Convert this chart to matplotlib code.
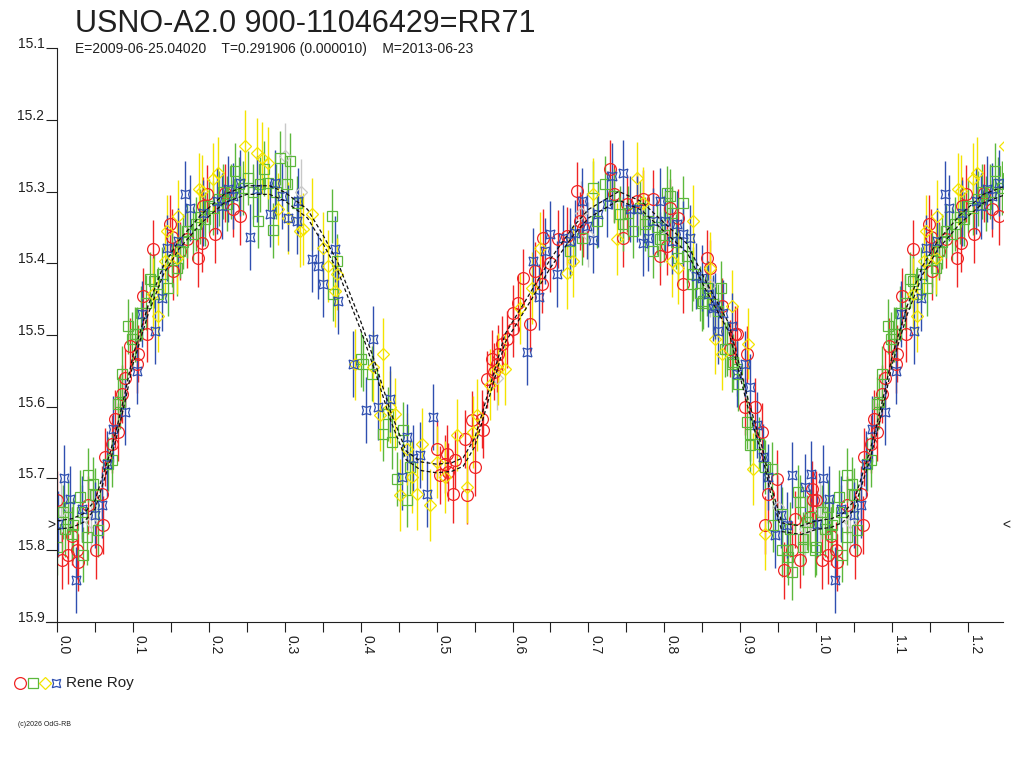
import numpy as np
import matplotlib
matplotlib.use("Agg")
import matplotlib.pyplot as plt
from matplotlib.lines import Line2D
from matplotlib.ticker import MultipleLocator
import matplotlib.transforms as mtransforms

plt.rcParams['font.family'] = ['Liberation Sans', 'DejaVu Sans']

TITLE = "USNO-A2.0 900-11046429=RR71"
SUBTITLE = "E=2009-06-25.04020    T=0.291906 (0.000010)    M=2013-06-23"
OBSERVER = "Rene Roy"
FOOTER = "(c)2026 OdG-RB"

# phase / magnitude readings, phase 0..1 (the chart repeats 0..0.25 after 1.0)
red_ph = [0.000, 0.007, 0.015, 0.020, 0.026, 0.028, 0.041, 0.051, 0.059, 0.061, 0.063, 0.072,
          0.076, 0.080, 0.086, 0.090, 0.096, 0.105, 0.107, 0.113, 0.118, 0.127, 0.149, 0.151,
          0.153, 0.162, 0.171, 0.186, 0.191, 0.192, 0.197, 0.208, 0.221, 0.232, 0.241,
          0.500, 0.505, 0.511, 0.514, 0.515, 0.522, 0.524, 0.538, 0.540, 0.547, 0.551, 0.560,
          0.561, 0.567, 0.573, 0.575, 0.580, 0.581, 0.586, 0.593, 0.600, 0.601, 0.607, 0.614,
          0.623, 0.630, 0.639, 0.640, 0.650, 0.660, 0.672, 0.685, 0.689, 0.693, 0.729, 0.733,
          0.746, 0.751, 0.764, 0.772, 0.785, 0.794, 0.804, 0.808, 0.818, 0.825, 0.856, 0.860,
          0.876, 0.887, 0.893, 0.896, 0.906, 0.909, 0.920, 0.929, 0.933, 0.937, 0.948, 0.957,
          0.968, 0.972, 0.979, 0.992, 0.995, 0.996]
red_mag = [15.730, 15.814, 15.807, 15.780, 15.800, 15.817, 15.737, 15.800, 15.722, 15.765, 15.670, 15.652,
           15.617, 15.635, 15.582, 15.560, 15.516, 15.541, 15.526, 15.446, 15.498, 15.380, 15.345, 15.364,
           15.411, 15.383, 15.366, 15.393, 15.372, 15.320, 15.303, 15.359, 15.302, 15.324, 15.334,
           15.659, 15.695, 15.680, 15.666, 15.691, 15.722, 15.674, 15.645, 15.723, 15.618, 15.684, 15.617,
           15.632, 15.562, 15.533, 15.551, 15.540, 15.526, 15.513, 15.506, 15.470, 15.491, 15.456, 15.420,
           15.484, 15.411, 15.429, 15.365, 15.400, 15.366, 15.362, 15.299, 15.341, 15.351, 15.268, 15.303,
           15.365, 15.317, 15.313, 15.310, 15.310, 15.390, 15.376, 15.323, 15.337, 15.429, 15.393, 15.407,
           15.460, 15.519, 15.499, 15.499, 15.600, 15.527, 15.600, 15.635, 15.765, 15.722, 15.700, 15.828,
           15.799, 15.757, 15.813, 15.754, 15.715, 15.730]

green_ph = [0.000, 0.008, 0.011, 0.015, 0.020, 0.021, 0.030, 0.033, 0.034, 0.040, 0.041, 0.047,
            0.050, 0.054, 0.067, 0.072, 0.080, 0.083, 0.086, 0.094, 0.099, 0.103, 0.105, 0.110,
            0.117, 0.123, 0.128, 0.133, 0.138, 0.146, 0.152, 0.158, 0.162, 0.166, 0.171, 0.179,
            0.183, 0.189, 0.195, 0.200, 0.206, 0.213, 0.218, 0.224, 0.229, 0.235, 0.240, 0.245,
            0.252, 0.258, 0.265, 0.268, 0.272, 0.278, 0.285, 0.289, 0.294, 0.303, 0.307, 0.316,
            0.362, 0.364, 0.369, 0.400, 0.403, 0.415, 0.430, 0.436, 0.441, 0.448, 0.456, 0.461,
            0.465, 0.676, 0.692, 0.706, 0.711, 0.722, 0.733, 0.742, 0.746, 0.752, 0.759, 0.768,
            0.775, 0.779, 0.785, 0.790, 0.794, 0.800, 0.804, 0.808, 0.810, 0.815, 0.818, 0.825,
            0.830, 0.837, 0.838, 0.847, 0.850, 0.851, 0.856, 0.864, 0.870, 0.874, 0.880, 0.883,
            0.889, 0.891, 0.896, 0.897, 0.909, 0.913, 0.913, 0.924, 0.933, 0.942, 0.943, 0.955,
            0.955, 0.962, 0.963, 0.966, 0.968, 0.976, 0.979, 0.983, 0.983, 0.988, 0.992, 0.999]
green_mag = [15.796, 15.747, 15.771, 15.740, 15.778, 15.765, 15.726, 15.747, 15.806, 15.782, 15.695, 15.708,
             15.723, 15.772, 15.680, 15.674, 15.596, 15.593, 15.554, 15.488, 15.506, 15.499, 15.499, 15.470,
             15.455, 15.422, 15.425, 15.443, 15.415, 15.435, 15.395, 15.407, 15.383, 15.370, 15.355, 15.359,
             15.345, 15.335, 15.338, 15.320, 15.323, 15.310, 15.300, 15.317, 15.300, 15.271, 15.290, 15.295,
             15.281, 15.300, 15.341, 15.290, 15.268, 15.288, 15.354, 15.300, 15.253, 15.289, 15.257, 15.316,
             15.334, 15.443, 15.397, 15.534, 15.540, 15.554, 15.638, 15.610, 15.649, 15.701, 15.632, 15.730,
             15.684, 15.383, 15.365, 15.295, 15.341, 15.289, 15.306, 15.331, 15.345, 15.330, 15.355, 15.323,
             15.345, 15.341, 15.383, 15.350, 15.366, 15.360, 15.302, 15.306, 15.330, 15.370, 15.393, 15.316,
             15.390, 15.429, 15.415, 15.442, 15.456, 15.453, 15.435, 15.457, 15.467, 15.435, 15.520, 15.519,
             15.541, 15.537, 15.547, 15.568, 15.621, 15.638, 15.653, 15.652, 15.684, 15.687, 15.765, 15.750,
             15.799, 15.799, 15.810, 15.771, 15.831, 15.719, 15.733, 15.785, 15.796, 15.761, 15.754, 15.799]

yellow_ph = [0.127, 0.133, 0.142, 0.145, 0.158, 0.159, 0.187, 0.191, 0.206, 0.212, 0.248, 0.264,
             0.270, 0.278, 0.291, 0.304, 0.320, 0.324, 0.336, 0.350, 0.357, 0.366, 0.369, 0.393,
             0.416, 0.426, 0.430, 0.439, 0.445, 0.452, 0.461, 0.468, 0.474, 0.481, 0.491, 0.501,
             0.511, 0.527, 0.540, 0.548, 0.553, 0.570, 0.581, 0.590, 0.610, 0.626, 0.636, 0.672,
             0.680, 0.706, 0.738, 0.764, 0.772, 0.810, 0.818, 0.838, 0.860, 0.867, 0.876, 0.889,
             0.910, 0.917, 0.933]
yellow_mag = [15.443, 15.474, 15.397, 15.355, 15.393, 15.334, 15.296, 15.299, 15.282, 15.274, 15.236, 15.247,
              15.253, 15.260, 15.324, 15.337, 15.355, 15.352, 15.331, 15.379, 15.404, 15.439, 15.415, 15.541,
              15.544, 15.611, 15.527, 15.600, 15.610, 15.723, 15.659, 15.698, 15.722, 15.652, 15.737, 15.677,
              15.698, 15.639, 15.712, 15.635, 15.611, 15.569, 15.547, 15.547, 15.463, 15.435, 15.379, 15.414,
              15.397, 15.303, 15.366, 15.281, 15.316, 15.397, 15.407, 15.341, 15.407, 15.505, 15.526, 15.460,
              15.512, 15.687, 15.778]

blue_ph = [0.001, 0.009, 0.017, 0.025, 0.033, 0.050, 0.059, 0.066, 0.074, 0.090, 0.105, 0.112,
           0.129, 0.138, 0.145, 0.159, 0.169, 0.175, 0.192, 0.211, 0.217, 0.225, 0.232, 0.241,
           0.254, 0.264, 0.281, 0.287, 0.296, 0.304, 0.316, 0.318, 0.336, 0.344, 0.350, 0.366,
           0.370, 0.390, 0.407, 0.416, 0.423, 0.439, 0.455, 0.461, 0.469, 0.478, 0.487, 0.495,
           0.619, 0.627, 0.635, 0.643, 0.650, 0.659, 0.667, 0.676, 0.682, 0.692, 0.698, 0.706,
           0.713, 0.725, 0.731, 0.746, 0.755, 0.764, 0.772, 0.779, 0.785, 0.794, 0.801, 0.810,
           0.817, 0.825, 0.834, 0.841, 0.850, 0.858, 0.864, 0.867, 0.871, 0.877, 0.889, 0.896,
           0.906, 0.913, 0.922, 0.930, 0.937, 0.946, 0.953, 0.962, 0.968, 0.985, 0.993]
blue_mag = [15.764, 15.699, 15.729, 15.841, 15.743, 15.751, 15.737, 15.680, 15.631, 15.607, 15.550, 15.471,
            15.495, 15.449, 15.379, 15.369, 15.303, 15.323, 15.330, 15.313, 15.320, 15.296, 15.306, 15.288,
            15.364, 15.296, 15.331, 15.288, 15.306, 15.337, 15.341, 15.313, 15.394, 15.404, 15.429, 15.380,
            15.453, 15.541, 15.604, 15.505, 15.600, 15.589, 15.698, 15.642, 15.671, 15.667, 15.722, 15.614,
            15.523, 15.397, 15.447, 15.383, 15.359, 15.415, 15.365, 15.369, 15.358, 15.313, 15.348, 15.368,
            15.331, 15.317, 15.278, 15.274, 15.324, 15.324, 15.372, 15.365, 15.341, 15.313, 15.341, 15.369,
            15.345, 15.359, 15.365, 15.418, 15.421, 15.443, 15.463, 15.460, 15.495, 15.470, 15.488, 15.554,
            15.541, 15.572, 15.625, 15.670, 15.698, 15.779, 15.751, 15.765, 15.695, 15.712, 15.694]

grey_ph = [0.005, 0.045, 0.300, 0.322, 0.580, 0.690, 0.700, 0.800, 0.860, 0.950, 0.985]
grey_mag = [15.745, 15.760, 15.250, 15.300, 15.560, 15.330, 15.360, 15.350, 15.430, 15.740, 15.770]

# error half-widths per observer set (mag)
red_err = 0.040
green_err = 0.038
yellow_err = 0.050
blue_err = 0.046
grey_err = 0.045

# fitted light curve
fit_ph = [0.000, 0.020, 0.035, 0.050, 0.060, 0.070, 0.080, 0.090, 0.100, 0.120, 0.140, 0.160,
          0.190, 0.220, 0.250, 0.280, 0.300, 0.330, 0.350, 0.370, 0.400, 0.420, 0.440, 0.460,
          0.480, 0.500, 0.520, 0.535, 0.550, 0.560, 0.575, 0.590, 0.620, 0.650, 0.680, 0.700,
          0.740, 0.770, 0.800, 0.830, 0.855, 0.885, 0.910, 0.930, 0.940, 0.955, 0.980]
fit_mag = [15.765, 15.762, 15.755, 15.737, 15.703, 15.670, 15.630, 15.585, 15.535, 15.465, 15.410, 15.375,
           15.338, 15.310, 15.298, 15.298, 15.307, 15.331, 15.366, 15.405, 15.487, 15.548, 15.615, 15.668,
           15.683, 15.686, 15.684, 15.677, 15.650, 15.615, 15.560, 15.505, 15.453, 15.400, 15.355, 15.331,
           15.306, 15.320, 15.350, 15.379, 15.432, 15.490, 15.595, 15.667, 15.715, 15.768, 15.772]
fit_spread = 0.006
min_mark = 15.765

PHASE_MAX = 1.246


def folded(ph, mag):
    ph = np.asarray(ph)
    mag = np.asarray(mag)
    extra = ph <= PHASE_MAX - 1 + 0.01
    return np.concatenate([ph, ph[extra] + 1]), np.concatenate([mag, mag[extra]])


fig = plt.figure(figsize=(10.24, 7.68), dpi=100)
ax = fig.add_axes([57 / 1024, 1 - 622 / 768, 946 / 1024, 574 / 768])

series = [
    (grey_ph, grey_mag, grey_err, '#c8c8c8', 'D', 6),
    (red_ph, red_mag, red_err, '#f02424', 'o', 8.5),
    (green_ph, green_mag, green_err, '#5cb83c', 's', 7.5),
    (yellow_ph, yellow_mag, yellow_err, '#f4e400', 'D', 6.5),
    (blue_ph, blue_mag, blue_err, '#2f4fb0', (4, 1, 45), 9),
]
for ph, mag, err, col, mk, ms in series:
    x, y = folded(ph, mag)
    ax.errorbar(x, y, yerr=err, fmt='', marker=mk, ms=ms, mfc='none', mec=col, mew=0.9,
                ecolor=col, elinewidth=1.0, capsize=0, linestyle='none')

fx, fy = folded(fit_ph, fit_mag)
for off in (-fit_spread, fit_spread):
    ax.plot(fx, fy + off, color='#111111', lw=0.9, ls=(0, (3, 2)), zorder=5)

ax.set_xlim(0, PHASE_MAX)
ax.set_ylim(15.9, 15.1)

for side in ('top', 'right'):
    ax.spines[side].set_visible(False)
ax.spines['left'].set_color('#202020')
ax.spines['bottom'].set_color('#202020')
ax.spines['bottom'].set_bounds(-0.015, PHASE_MAX)

ax.xaxis.set_major_locator(MultipleLocator(0.1))
ax.xaxis.set_minor_locator(MultipleLocator(0.05))
ax.yaxis.set_major_locator(MultipleLocator(0.1))
ax.tick_params(axis='x', which='both', direction='out', length=7.5, width=0.8,
               color='#202020', labelsize=10, pad=2)
ax.tick_params(axis='y', direction='out', length=8, width=0.8, color='#202020',
               labelsize=10, pad=1)
ax.set_xticks(np.arange(0, 1.21, 0.1))
ax.set_xticklabels([f"{v:.1f}" for v in np.arange(0, 1.21, 0.1)],
                   rotation=270, ha='left', va='top', color='#202020')
ax.set_yticks(np.arange(15.1, 15.91, 0.1))
ax.set_yticklabels([f"{v:.1f}" for v in np.arange(15.1, 15.91, 0.1)],
                   va='baseline', color='#202020')

blend = mtransforms.blended_transform_factory(ax.transAxes, ax.transData)
ax.text(-0.006, min_mark, ">", transform=blend, ha='center', va='center',
        fontsize=10, color='#202020', clip_on=False)
ax.text(1.004, min_mark, "<", transform=blend, ha='center', va='center',
        fontsize=10, color='#202020', clip_on=False)

fig.text(75 / 1024, 1 - 32 / 768, TITLE, fontsize=22, color='#202020', va='baseline')
fig.text(75 / 1024, 1 - 53 / 768, SUBTITLE, fontsize=10, color='#202020', va='baseline')

leg = [('o', '#f02424', 8.5, 20), ('s', '#5cb83c', 7, 33),
       ('D', '#f4e400', 6, 45), ((4, 1, 45), '#2f4fb0', 8.5, 56)]
for mk, col, ms, px in leg:
    fig.add_artist(Line2D([px / 1024], [1 - 683 / 768], marker=mk, ms=ms, mfc='none',
                          mec=col, mew=0.9, transform=fig.transFigure))
fig.text(66 / 1024, 1 - 683 / 768, OBSERVER, fontsize=11, color='#202020', va='center')
fig.text(18 / 1024, 1 - 725 / 768, FOOTER, fontsize=5, color='#202020', va='center')

fig.savefig("out.png", dpi=100)
